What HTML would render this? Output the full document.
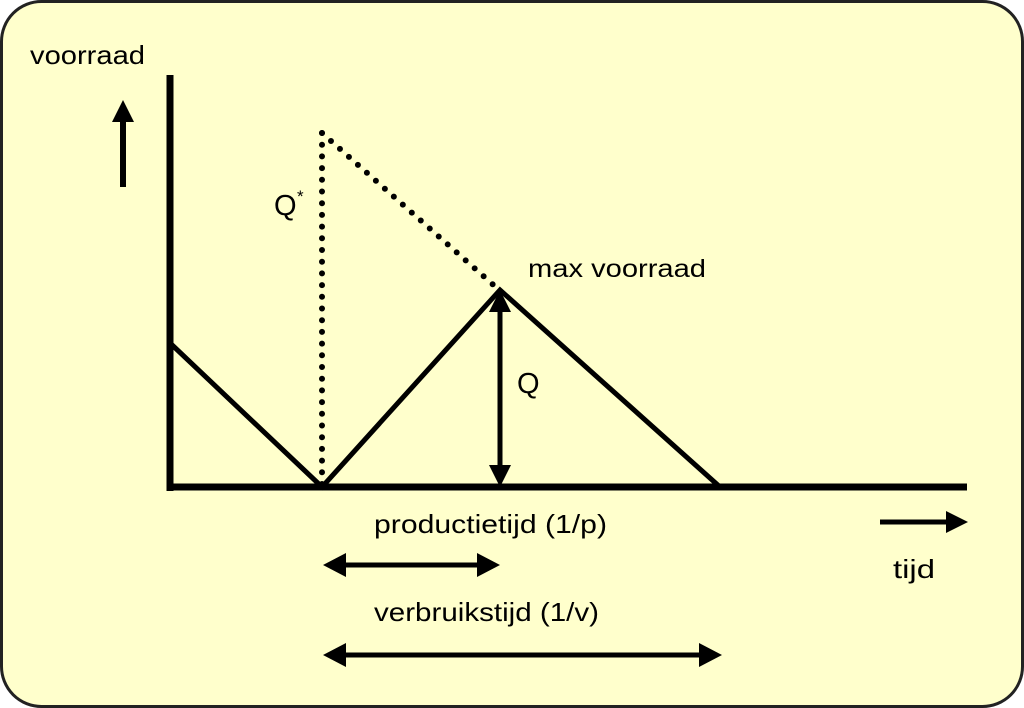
<!DOCTYPE html>
<html><head><style>html,body{margin:0;padding:0;background:#fff}svg{display:block}</style></head>
<body>
<svg width="1024" height="708" viewBox="0 0 1024 708" xmlns="http://www.w3.org/2000/svg" font-family="Liberation Sans, sans-serif" fill="#000">
<rect x="1.5" y="1.5" width="1021" height="705" rx="40" fill="#FFFFCC" stroke="#222" stroke-width="3"/>
<g stroke="#000" fill="none">
<line x1="170" y1="75" x2="170" y2="491" stroke-width="7"/>
<line x1="167" y1="487" x2="967" y2="487" stroke-width="7"/>
<line x1="123" y1="187" x2="123" y2="118" stroke-width="6"/>
<polyline points="170,343 322,487 500,290 720,487" stroke-width="5" stroke-linejoin="miter"/>
<line x1="322" y1="133" x2="322" y2="484" stroke-width="6" stroke-dasharray="0 11.7" stroke-linecap="round"/>
<line x1="322" y1="133" x2="498" y2="289" stroke-width="6" stroke-dasharray="0 12" stroke-linecap="round"/>
<line x1="500" y1="305" x2="500" y2="470" stroke-width="5"/>
<line x1="880" y1="522" x2="950" y2="522" stroke-width="5"/>
<line x1="335" y1="565" x2="488" y2="565" stroke-width="5"/>
<line x1="335" y1="655" x2="710" y2="655" stroke-width="5"/>
</g>
<polygon points="123,100 112,122 134,122"/>
<polygon points="500,290 489,312 511,312"/>
<polygon points="500,487 489,465 511,465"/>
<polygon points="968,522 946,511 946,533"/>
<polygon points="323,565 346,553 346,577"/>
<polygon points="500,565 477,553 477,577"/>
<polygon points="323,655 346,643 346,667"/>
<polygon points="722,655 699,643 699,667"/>
<g font-size="26">
<text x="30" y="64" textLength="115" lengthAdjust="spacingAndGlyphs">voorraad</text>
<text x="274" y="215" font-size="29">Q</text>
<text x="297" y="202" font-size="17">*</text>
<text x="528" y="277" font-size="25" textLength="178" lengthAdjust="spacingAndGlyphs">max voorraad</text>
<text x="517" y="393" font-size="29">Q</text>
<text x="374" y="533" textLength="233" lengthAdjust="spacingAndGlyphs">productietijd (1/p)</text>
<text x="374" y="621" textLength="225" lengthAdjust="spacingAndGlyphs">verbruikstijd (1/v)</text>
<text x="893" y="578" textLength="42" lengthAdjust="spacingAndGlyphs">tijd</text>
</g>
</svg>
</body></html>
